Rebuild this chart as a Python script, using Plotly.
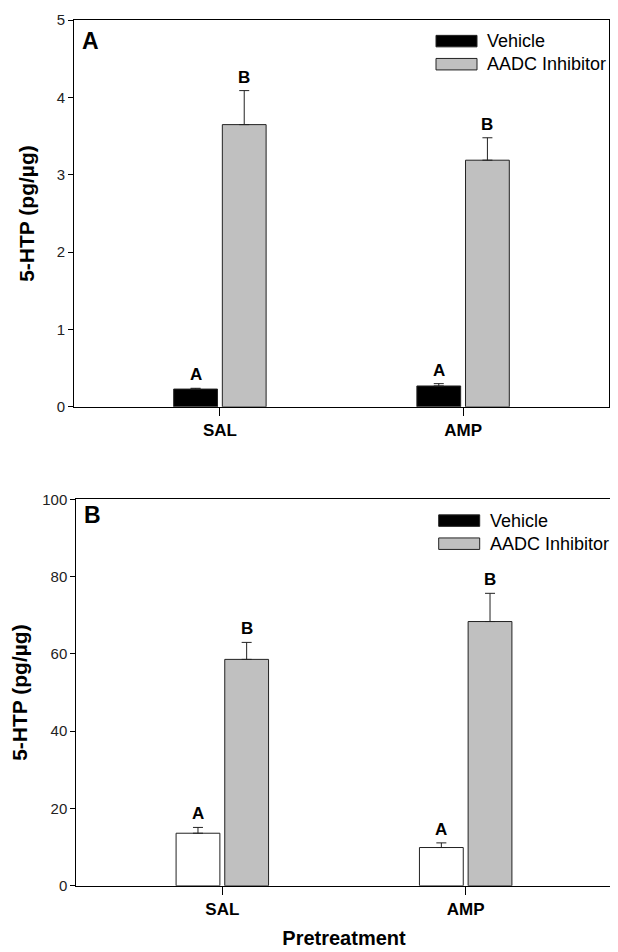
import plotly.graph_objects as go

# ---------------- data ----------------
categories = ["SAL", "AMP"]
series_names = ["Vehicle", "AADC Inhibitor"]

# Panel A
a_vehicle = [0.23, 0.27]
a_vehicle_err = [0.01, 0.03]
a_aadc = [3.65, 3.19]
a_aadc_err = [0.44, 0.29]
a_vehicle_letters = ["A", "A"]
a_aadc_letters = ["B", "B"]
a_yticks = [0, 1, 2, 3, 4, 5]

# Panel B
b_vehicle = [13.6, 9.9]
b_vehicle_err = [1.5, 1.2]
b_aadc = [58.6, 68.4]
b_aadc_err = [4.4, 7.3]
b_vehicle_letters = ["A", "A"]
b_aadc_letters = ["B", "B"]
b_yticks = [0, 20, 40, 60, 80, 100]

panel_labels = ["A", "B"]
y_title = "5-HTP (pg/µg)"
x_title = "Pretreatment"

# ---------------- layout helpers ----------------
# the page body has an 8px default margin, so the figure is made 8px smaller
# and all window-pixel positions are shifted by that margin
PAGE_MARGIN = 8
W, H = 618 - PAGE_MARGIN, 952 - PAGE_MARGIN
FONT = "Arial, Liberation Sans, sans-serif"
GRAY = "#c0c0c0"
EDGE = "#222222"


def px(x):
    return (x - PAGE_MARGIN) / W


def py(y):
    return 1 - (y - PAGE_MARGIN) / H


xpos = list(range(len(categories)))

fig = go.Figure()


def add_panel(vals_v, err_v, vals_a, err_a, vcolor, xa, ya):
    fig.add_trace(go.Bar(
        x=xpos, y=vals_v, name=series_names[0], showlegend=False,
        offset=-0.19, width=0.18,
        marker=dict(color=vcolor, line=dict(color=EDGE, width=1)),
        error_y=dict(type="data", array=err_v, arrayminus=[0] * len(err_v),
                     symmetric=False, color=EDGE, thickness=1, width=5),
        xaxis=xa, yaxis=ya,
    ))
    fig.add_trace(go.Bar(
        x=xpos, y=vals_a, name=series_names[1], showlegend=False,
        offset=0.01, width=0.18,
        marker=dict(color=GRAY, line=dict(color=EDGE, width=1)),
        error_y=dict(type="data", array=err_a, arrayminus=[0] * len(err_a),
                     symmetric=False, color=EDGE, thickness=1, width=5),
        xaxis=xa, yaxis=ya,
    ))


add_panel(a_vehicle, a_vehicle_err, a_aadc, a_aadc_err, "black", "x", "y")
add_panel(b_vehicle, b_vehicle_err, b_aadc, b_aadc_err, "white", "x2", "y2")

axis_common = dict(showline=True, linecolor="black", linewidth=1, mirror=True,
                   showgrid=False, zeroline=False, ticks="outside",
                   tickcolor="black", tickwidth=1)

xaxis_common = dict(axis_common, tickvals=xpos, ticktext=categories,
                    range=[-0.6, 1.6], ticklen=8,
                    tickfont=dict(family=FONT, size=17, color="black", weight="bold"))

fig.update_layout(
    width=W, height=H,
    margin=dict(l=0, r=0, t=0, b=0),
    paper_bgcolor="white", plot_bgcolor="white",
    barmode="overlay",
    showlegend=False,
    font=dict(family=FONT, color="black"),
    xaxis=dict(xaxis_common, domain=[px(74), px(609)], anchor="y"),
    yaxis=dict(axis_common, domain=[py(405), py(11.3)], anchor="x",
               range=[0, 5], tickvals=a_yticks, ticklen=5,
               tickfont=dict(family=FONT, size=15, color="#222"),
               title=dict(text=y_title, standoff=16,
                          font=dict(family=FONT, size=21, color="black", weight="bold"))),
    xaxis2=dict(xaxis_common, domain=[px(76.3), px(611.7)], anchor="y2",
                title=dict(text=x_title, standoff=12,
                           font=dict(family=FONT, size=20, color="black", weight="bold"))),
    yaxis2=dict(axis_common, domain=[py(892.7), py(499.3)], anchor="x2",
                range=[0, 100], tickvals=b_yticks, ticklen=5,
                tickfont=dict(family=FONT, size=15, color="#222"),
                title=dict(text=y_title, standoff=14,
                           font=dict(family=FONT, size=21, color="black", weight="bold"))),
)


# significance letters
def add_letters(vals, errs, letters, offset, xa, ya):
    for i, (v, e, t) in enumerate(zip(vals, errs, letters)):
        fig.add_annotation(x=xpos[i] + offset, y=v + e, text=t, xref=xa, yref=ya,
                           showarrow=False, yanchor="bottom", yshift=2,
                           font=dict(family=FONT, size=17, color="black", weight="bold"))


add_letters(a_vehicle, a_vehicle_err, a_vehicle_letters, -0.10, "x", "y")
add_letters(a_aadc, a_aadc_err, a_aadc_letters, 0.10, "x", "y")
add_letters(b_vehicle, b_vehicle_err, b_vehicle_letters, -0.10, "x2", "y2")
add_letters(b_aadc, b_aadc_err, b_aadc_letters, 0.10, "x2", "y2")

# panel labels
for lab, (lx, ly) in zip(panel_labels, [(80, 32), (82, 515)]):
    fig.add_annotation(x=px(lx), y=py(ly), xref="paper", yref="paper", text=lab,
                       showarrow=False, xanchor="left", yanchor="middle",
                       font=dict(family=FONT, size=23, color="black", weight="bold"))

# manual legends (wide rectangle swatches)
legend_fill = ["black", GRAY]
for (sx, sy) in [(436, 26.7), (438.7, 515)]:
    for k, name in enumerate(series_names):
        y0 = sy + k * 23.5
        fig.add_shape(type="rect", xref="paper", yref="paper",
                      x0=px(sx), x1=px(sx + 41), y0=py(y0 + 11.7), y1=py(y0),
                      fillcolor=legend_fill[k], line=dict(color=EDGE, width=1))
        fig.add_annotation(x=px(sx + 49), y=py(y0 + 6), xref="paper", yref="paper",
                           text=name, showarrow=False, xanchor="left", yanchor="middle",
                           font=dict(family=FONT, size=18, color="black"))

fig.write_html("out.html")
